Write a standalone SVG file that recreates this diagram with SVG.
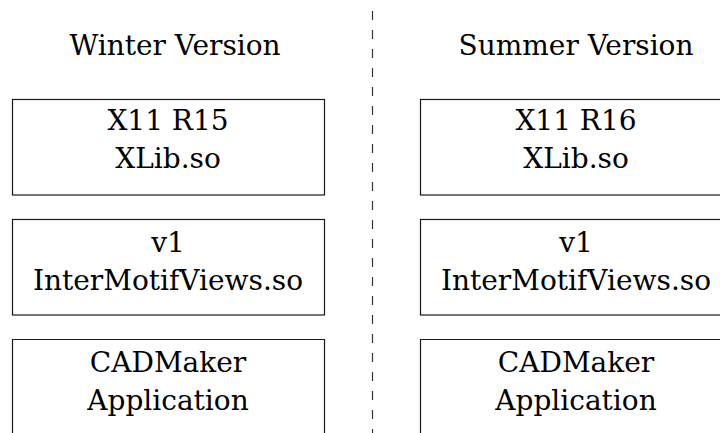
<svg xmlns="http://www.w3.org/2000/svg" width="720" height="433" viewBox="0 0 720 433">
<style>
.box{fill:none;stroke:#1a1a1a;stroke-width:1.2}
.t{font-family:"DejaVu Serif","Liberation Serif",serif;font-size:28px;fill:#000;text-anchor:middle}
.div{stroke:#333;stroke-width:1.2;stroke-dasharray:9 10}
</style>
<rect width="720" height="433" fill="#fff"/>
<g id="connectors">
<line class="div" x1="372.5" y1="11" x2="372.5" y2="433"/>
</g>
<g id="title-winter"><text class="t" x="175" y="55">Winter Version</text></g>
<g id="title-summer"><text class="t" x="576" y="55">Summer Version</text></g>
<g id="winter-xlib">
<rect class="box" x="12.5" y="99.5" width="312" height="95.5"/>
<text class="t" x="168" y="130">X11 R15</text>
<text class="t" x="168" y="168">XLib.so</text>
</g>
<g id="winter-views">
<rect class="box" x="12.5" y="219.5" width="312" height="95.5"/>
<text class="t" x="168" y="251.5">v1</text>
<text class="t" x="168" y="290">InterMotifViews.so</text>
</g>
<g id="winter-app">
<path class="box" d="M12.5 440 V339.5 H324.5 V440"/>
<text class="t" x="168" y="371.5">CADMaker</text>
<text class="t" x="168" y="410">Application</text>
</g>
<g id="summer-xlib">
<rect class="box" x="420.5" y="99.5" width="312" height="95.5"/>
<text class="t" x="576" y="130">X11 R16</text>
<text class="t" x="576" y="168">XLib.so</text>
</g>
<g id="summer-views">
<rect class="box" x="420.5" y="219.5" width="312" height="95.5"/>
<text class="t" x="576" y="251.5">v1</text>
<text class="t" x="576" y="290">InterMotifViews.so</text>
</g>
<g id="summer-app">
<path class="box" d="M420.5 440 V339.5 H732.5"/>
<text class="t" x="576" y="371.5">CADMaker</text>
<text class="t" x="576" y="410">Application</text>
</g>
</svg>
